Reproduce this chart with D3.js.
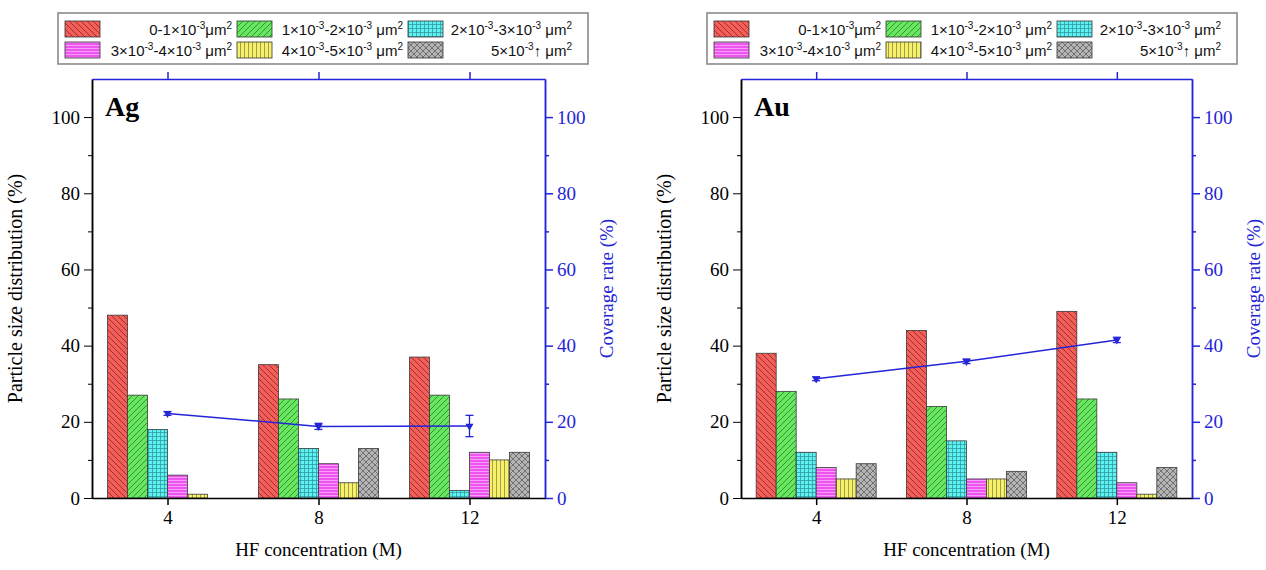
<!DOCTYPE html>
<html>
<head>
<meta charset="utf-8">
<script src="https://cdn.jsdelivr.net/npm/d3@7"></script>
<style>
  body { margin: 0; background: #fff; }
  svg { display: block; }
</style>
</head>
<body>
<div id="chart"></div>
<script>
const WIDTH = 1266;
const HEIGHT = 570;

// HF concentration (M), x categories
const hfConc = [4, 8, 12];

// particle size distribution (%) for each size class at 4, 8, 12 M
const agSize0to1 = [48, 35, 37];
const agSize1to2 = [27, 26, 27];
const agSize2to3 = [18, 13, 2];
const agSize3to4 = [6, 9, 12];
const agSize4to5 = [1, 4, 10];
const agSize5up  = [0, 13, 12];

const auSize0to1 = [38, 44, 49];
const auSize1to2 = [28, 24, 26];
const auSize2to3 = [12, 15, 12];
const auSize3to4 = [8, 5, 4];
const auSize4to5 = [5, 5, 1];
const auSize5up  = [9, 7, 8];

// coverage rate (%) with error
const agCoverage = [22.2, 18.8, 18.9];
const agCoverageErr = [0.5, 0.8, 2.8];
const auCoverage = [31.3, 35.9, 41.5];
const auCoverageErr = [0.5, 0.6, 0.7];

const yTicks = [0, 20, 40, 60, 80, 100];
const yMinorTicks = [10, 30, 50, 70, 90];

// legend labels: [text, isSuperscript] pieces
const sizeLabels = [
  [["0-1×10", 0], ["-3", 1], ["μm", 0], ["2", 1]],
  [["1×10", 0], ["-3", 1], ["-2×10", 0], ["-3", 1], [" μm", 0], ["2", 1]],
  [["2×10", 0], ["-3", 1], ["-3×10", 0], ["-3", 1], [" μm", 0], ["2", 1]],
  [["3×10", 0], ["-3", 1], ["-4×10", 0], ["-3", 1], [" μm", 0], ["2", 1]],
  [["4×10", 0], ["-3", 1], ["-5×10", 0], ["-3", 1], [" μm", 0], ["2", 1]],
  [["5×10", 0], ["-3", 1], ["↑   μm", 0], ["2", 1]]
];

const BLUE = "#2424d8";
const SERIF = "'Liberation Serif', 'DejaVu Serif', serif";
const SANS = "'Liberation Sans', Arial, sans-serif";

let svg = d3.select("#chart").append("svg")
    .attr("width", WIDTH)
    .attr("height", HEIGHT);

// hatch patterns for the six size classes
let defs = svg.append("defs");
function makePattern(id, bg, size, lines, stroke, sw) {
  let p = defs.append("pattern")
      .attr("id", id)
      .attr("patternUnits", "userSpaceOnUse")
      .attr("width", size)
      .attr("height", size);
  p.append("rect").attr("width", size).attr("height", size).attr("fill", bg);
  lines.forEach(function(l) {
    p.append("line")
      .attr("x1", l[0]).attr("y1", l[1]).attr("x2", l[2]).attr("y2", l[3])
      .attr("stroke", stroke)
      .attr("stroke-width", sw);
  });
}
makePattern("pRed", "#f55d58", 6, [[0,0,6,6],[-3,3,3,9],[3,-3,9,3]], "#7d2a27", 0.8);
makePattern("pGreen", "#67e75f", 6, [[0,6,6,0],[-3,3,3,-3],[3,9,9,3]], "#2f7a2a", 0.8);
makePattern("pCyan", "#5cf2f2", 4, [[0,0.5,4,0.5],[0.5,0,0.5,4]], "#2f8f9a", 0.7);
makePattern("pMagenta", "#ee55ee", 3, [[0,0.5,3,0.5]], "#f9b0f9", 0.8);
makePattern("pYellow", "#f6f06c", 4, [[0.5,0,0.5,4]], "#8c8a3a", 0.8);
makePattern("pGray", "#b4b4b4", 6, [[0,0,6,6],[0,6,6,0],[-3,3,3,9],[3,-3,9,3],[-3,3,3,-3],[3,9,9,3]], "#555", 0.7);
const fills = ["url(#pRed)", "url(#pGreen)", "url(#pCyan)", "url(#pMagenta)", "url(#pYellow)", "url(#pGray)"];

function drawPanel(cfg) {
  let top = 79, bottom = 498;
  let x = d3.scaleLinear().domain([2, 14]).range([cfg.x0, cfg.x1]);
  let y = d3.scaleLinear().domain([0, 110]).range([bottom, top]);
  let barW = 20;
  let g = svg.append("g");

  // legend
  let lg = g.append("g").attr("class", "legend");
  lg.append("rect")
    .attr("x", cfg.x0 - 34).attr("y", 13)
    .attr("width", 530).attr("height", 51)
    .attr("fill", "#fff").attr("stroke", "#8a8a8a").attr("stroke-width", 1.6);
  let colSwatch = [-27, 145, 316];
  let colTextEnd = [140, 311, 480];
  sizeLabels.forEach(function(parts, i) {
    let col = i % 3, row = Math.floor(i / 3);
    lg.append("rect")
      .attr("x", cfg.x0 + colSwatch[col]).attr("y", 21 + row * 21)
      .attr("width", 35).attr("height", 16)
      .attr("fill", fills[i]).attr("stroke", "#333").attr("stroke-width", 0.8);
    let t = lg.append("text")
      .attr("x", cfg.x0 + colTextEnd[col]).attr("y", 35 + row * 21)
      .attr("text-anchor", "end")
      .attr("font-family", SANS).attr("font-size", 15).attr("fill", "#111");
    let raised = false;
    parts.forEach(function(pt) {
      let s = t.append("tspan").text(pt[0]);
      if (pt[1] && !raised) { s.attr("dy", -6).attr("font-size", 10); raised = true; }
      else if (!pt[1] && raised) { s.attr("dy", 6); raised = false; }
      else if (pt[1]) { s.attr("font-size", 10); }
    });
  });

  // bars
  let series = cfg.dist;
  series.forEach(function(vals, si) {
    g.append("g").selectAll("rect")
      .data(vals)
      .enter().append("rect")
        .attr("x", function(d, i) { return x(hfConc[i]) + (si - 3) * barW; })
        .attr("y", function(d) { return y(d); })
        .attr("width", barW)
        .attr("height", function(d) { return bottom - y(d); })
        .attr("fill", fills[si])
        .attr("stroke", "#3a3a3a")
        .attr("stroke-width", 0.8)
        .style("display", function(d) { return d > 0 ? null : "none"; });
  });

  // axes
  let leftAxis = d3.axisLeft(y).tickValues(yTicks).tickSize(8).tickSizeOuter(0).tickPadding(4);
  let leftMinor = d3.axisLeft(y).tickValues(yMinorTicks).tickSize(4).tickSizeOuter(0).tickFormat("");
  g.append("g").attr("transform", `translate(${cfg.x0},0)`).call(leftAxis);
  g.append("g").attr("transform", `translate(${cfg.x0},0)`).call(leftMinor);

  let rightAxis = d3.axisRight(y).tickValues(yTicks).tickSize(8).tickSizeOuter(0).tickPadding(4);
  let rightMinor = d3.axisRight(y).tickValues(yMinorTicks).tickSize(4).tickSizeOuter(0).tickFormat("");
  let ra = g.append("g").attr("transform", `translate(${cfg.x1},0)`).call(rightAxis);
  let rm = g.append("g").attr("transform", `translate(${cfg.x1},0)`).call(rightMinor);
  [ra, rm].forEach(function(a) {
    a.selectAll("line, path").attr("stroke", BLUE).attr("stroke-width", 1.5);
    a.selectAll("text").attr("fill", BLUE);
  });

  let topAxis = d3.axisTop(x).tickValues(hfConc).tickSize(7).tickSizeOuter(0).tickFormat("");
  let ta = g.append("g").attr("transform", `translate(0,${top})`).call(topAxis);
  ta.selectAll("line, path").attr("stroke", BLUE).attr("stroke-width", 1.5);

  let bottomAxis = d3.axisBottom(x).tickValues(hfConc).tickSize(7).tickSizeOuter(0).tickPadding(6);
  let ba = g.append("g").attr("transform", `translate(0,${bottom})`).call(bottomAxis);
  ba.selectAll("line, path").attr("stroke-width", 1.5);
  g.selectAll(".domain").attr("stroke-width", 1.5);
  // serif tick labels like the original
  g.selectAll(".tick text").attr("font-family", SERIF).attr("font-size", 19);

  // coverage line with error bars
  let cov = cfg.coverage.map(function(v, i) { return { c: hfConc[i], v: v, e: cfg.err[i] }; });
  g.append("path")
    .datum(cov)
    .attr("fill", "none")
    .attr("stroke", BLUE)
    .attr("stroke-width", 1.5)
    .attr("d", d3.line().x(function(d) { return x(d.c); }).y(function(d) { return y(d.v); }));
  let eb = g.append("g").selectAll("g").data(cov).enter().append("g");
  eb.append("line")
    .attr("x1", function(d) { return x(d.c); }).attr("x2", function(d) { return x(d.c); })
    .attr("y1", function(d) { return y(d.v - d.e); }).attr("y2", function(d) { return y(d.v + d.e); })
    .attr("stroke", BLUE).attr("stroke-width", 1.3);
  [-1, 1].forEach(function(s) {
    eb.append("line")
      .attr("x1", function(d) { return x(d.c) - 4; }).attr("x2", function(d) { return x(d.c) + 4; })
      .attr("y1", function(d) { return y(d.v + s * d.e); }).attr("y2", function(d) { return y(d.v + s * d.e); })
      .attr("stroke", BLUE).attr("stroke-width", 1.3);
  });
  eb.append("path")
    .attr("d", d3.symbol().type(d3.symbolTriangle).size(28))
    .attr("transform", function(d) { return `translate(${x(d.c)},${y(d.v)}) rotate(180)`; })
    .attr("fill", BLUE);

  // panel label
  g.append("text")
    .attr("x", cfg.x0 + 13).attr("y", 116)
    .attr("font-family", SERIF).attr("font-size", 28).attr("font-weight", "bold")
    .text(cfg.name);

  // axis titles
  g.append("text")
    .attr("transform", `translate(${cfg.x0 - 70},${(top + bottom) / 2}) rotate(-90)`)
    .attr("text-anchor", "middle")
    .attr("font-family", SERIF).attr("font-size", 20)
    .text("Particle  size distribution (%)");
  g.append("text")
    .attr("transform", `translate(${cfg.x1 + 68},${(top + bottom) / 2}) rotate(-90)`)
    .attr("text-anchor", "middle")
    .attr("font-family", SERIF).attr("font-size", 19)
    .attr("fill", BLUE)
    .text("Coverage rate (%)");
  g.append("text")
    .attr("x", (cfg.x0 + cfg.x1) / 2).attr("y", 556)
    .attr("text-anchor", "middle")
    .attr("font-family", SERIF).attr("font-size", 19)
    .text("HF concentration (M)");
}

drawPanel({
  name: "Ag", x0: 92, x1: 545,
  dist: [agSize0to1, agSize1to2, agSize2to3, agSize3to4, agSize4to5, agSize5up],
  coverage: agCoverage, err: agCoverageErr
});
drawPanel({
  name: "Au", x0: 741, x1: 1192,
  dist: [auSize0to1, auSize1to2, auSize2to3, auSize3to4, auSize4to5, auSize5up],
  coverage: auCoverage, err: auCoverageErr
});
</script>
</body>
</html>
